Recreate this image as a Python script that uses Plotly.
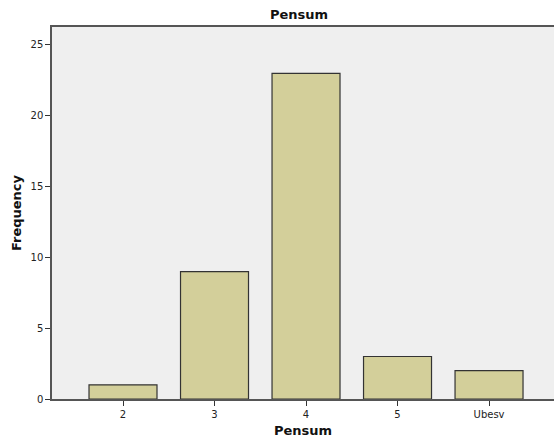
import plotly.graph_objects as go

categories = ["2", "3", "4", "5", "Ubesv"]
frequency = [1, 9, 23, 3, 2]
y_ticks = [0, 5, 10, 15, 20, 25]

fig = go.Figure()
fig.add_trace(go.Bar(
    x=categories, y=frequency, width=0.743,
    marker=dict(color="#D3CF9A", line=dict(color="#333333", width=1.2)),
))

fig.update_layout(
    width=554, height=438,
    margin=dict(l=52, r=0, t=27, b=39),
    paper_bgcolor="white", plot_bgcolor="#EFEFEF",
    showlegend=False,
    font=dict(family="DejaVu Sans", color="#222222"),
    title=dict(text="<b>Pensum</b>", x=299/554, xanchor="center", y=1-14/438, yanchor="middle",
               font=dict(size=13, color="#111111")),
    bargap=0.257,
)
fig.update_xaxes(
    type="category", range=[-0.776, 4.71],
    showline=True, linecolor="#555555", linewidth=1.5, mirror=True,
    ticks="outside", ticklen=5, tickcolor="#333333",
    tickfont=dict(size=10, family="DejaVu Sans"),
    showgrid=False, zeroline=False,
    title=dict(text="<b>Pensum</b>", font=dict(size=13, color="#111111"), standoff=9),
)
fig.update_yaxes(
    range=[0, 26.27], tickvals=y_ticks,
    showline=True, linecolor="#555555", linewidth=1.5,
    ticks="outside", ticklen=5, tickcolor="#333333",
    tickfont=dict(size=10, family="DejaVu Sans"),
    showgrid=False, zeroline=False,
    title=dict(text="<b>Frequency</b>", font=dict(size=13, color="#111111"), standoff=6),
)

fig.write_html("out.html", config={"displayModeBar": False},
               post_script="document.body.style.margin='0';document.body.style.overflow='hidden';")
